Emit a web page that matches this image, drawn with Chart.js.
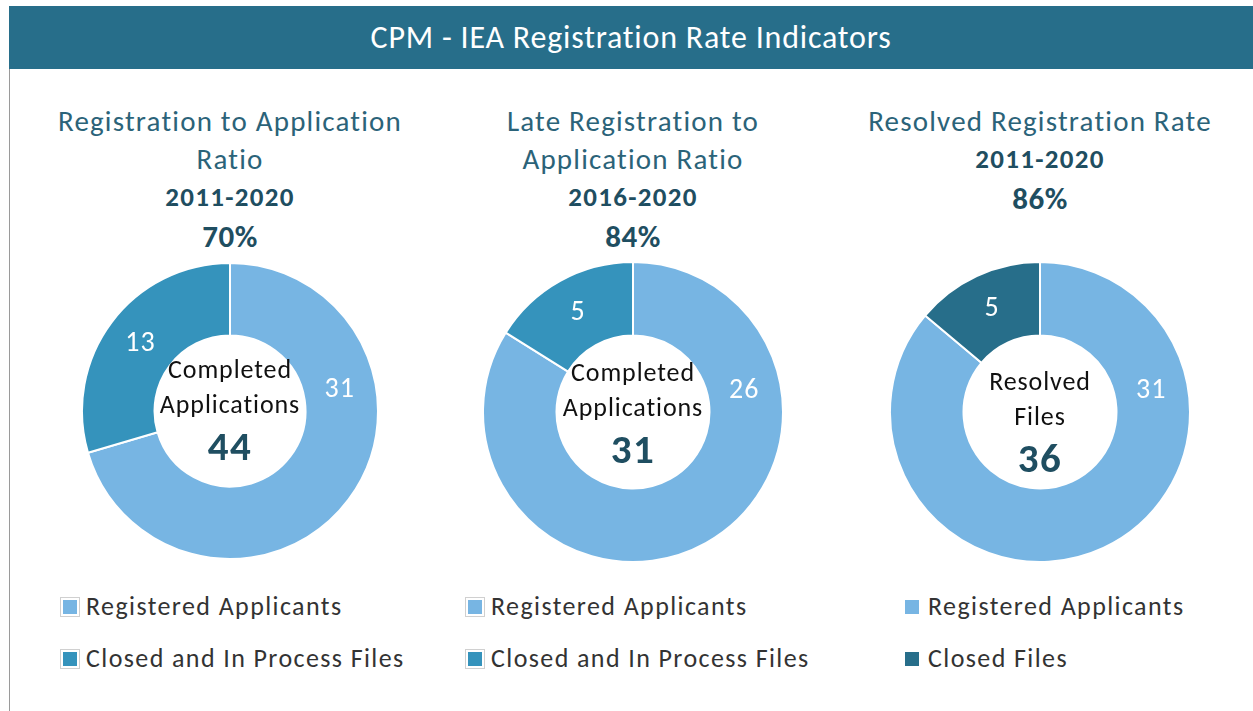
<!DOCTYPE html>
<html lang="en">
<head>
    <meta charset="UTF-8">
    <title>CPM - IEA Registration Rate Indicators</title>
    <script src="https://cdn.jsdelivr.net/npm/chart.js"></script>
    <style>
        body { margin: 0; background: #fff; font-family: Carlito, Calibri, Lato, sans-serif; }
        #page { position: relative; width: 1253px; height: 711px; overflow: hidden; }
        #header { position: absolute; left: 9px; top: 6px; width: 1244px; height: 63px; background: #276e8a;
                  color: #fff; font-size: 32px; letter-spacing: 0.8px; line-height: 63px; text-align: center; }
        #frame { position: absolute; left: 9px; top: 69px; width: 1px; height: 642px; background: #9a9a9a; }
        .title { position: absolute; width: 440px; text-align: center; color: #2b6379; font-size: 29px;
                 letter-spacing: 1.2px; line-height: 38px; }
        .period { position: absolute; width: 440px; text-align: center; color: #1f4e61; font-size: 27px;
                  letter-spacing: 1.3px; font-weight: bold; }
        .rate { position: absolute; width: 440px; text-align: center; color: #1f4e61; font-size: 31px;
                letter-spacing: 0.5px; font-weight: bold; }
        .box { position: absolute; }
        .legend { position: absolute; font-size: 26px; letter-spacing: 1.4px; color: #333; }
        .legend div { height: 52px; line-height: 24px; white-space: nowrap; }
        .legend span { display: inline-block; width: 14px; height: 14px; margin-right: 9px; vertical-align: 1px; }
    </style>
</head>
<body>
<div id="page">
    <div id="header">CPM - IEA Registration Rate Indicators</div>
    <div id="frame"></div>
</div>

<script>
    // data
    var titles = [
        ['Registration to Application', 'Ratio'],
        ['Late Registration to', 'Application Ratio'],
        ['Resolved Registration Rate']
    ];
    var periods = ['2011-2020', '2016-2020', '2011-2020'];
    var rates = ['70%', '84%', '86%'];
    var legendLabels = [
        ['Registered Applicants', 'Closed and In Process Files'],
        ['Registered Applicants', 'Closed and In Process Files'],
        ['Registered Applicants', 'Closed Files']
    ];
    var values = [
        [31, 13],
        [26, 5],
        [31, 5]
    ];
    var centerLabels = [
        ['Completed', 'Applications'],
        ['Completed', 'Applications'],
        ['Resolved', 'Files']
    ];
    var centerTotals = ['44', '31', '36'];

    var colors = [
        ['#77b5e3', '#3593bc'],
        ['#77b5e3', '#3593bc'],
        ['#77b5e3', '#276e8a']
    ];

    // layout per panel
    var panels = [
        { cx: 230, cy: 411, size: 298, titleTop: 102, legendX: 63, legendBorder: true, centerShift: 0 },
        { cx: 633, cy: 412, size: 302, titleTop: 102, legendX: 468, legendBorder: true, centerShift: 2 },
        { cx: 1040, cy: 412, size: 302, titleTop: 102, legendX: 905, legendBorder: false, centerShift: 11 }
    ];

    var FONT = 'Carlito, Calibri, Lato, sans-serif';

    // white value labels on the ring
    var ringLabels = {
        id: 'ringLabels',
        afterDatasetsDraw: function(chart) {
            var ctx = chart.ctx;
            var meta = chart.getDatasetMeta(0);
            ctx.save();
            ctx.fillStyle = '#fff';
            ctx.font = '28px ' + FONT;
            ctx.letterSpacing = '1px';
            ctx.textAlign = 'center';
            ctx.textBaseline = 'middle';
            meta.data.forEach(function(arc, i) {
                var span = arc.endAngle - arc.startAngle;
                var a = span > Math.PI ? arc.startAngle + Math.PI * 0.44 : arc.startAngle + span / 2;
                var r = (arc.innerRadius + arc.outerRadius) / 2;
                ctx.fillText(chart.data.datasets[0].data[i], arc.x + Math.cos(a) * r, arc.y + Math.sin(a) * r);
            });
            ctx.restore();
        }
    };

    // text in the hole
    var holeText = {
        id: 'holeText',
        afterDraw: function(chart) {
            var o = chart.options.plugins.holeText;
            var ctx = chart.ctx;
            var arc = chart.getDatasetMeta(0).data[0];
            var x = arc.x, y = arc.y + o.shift;
            ctx.save();
            ctx.textAlign = 'center';
            ctx.textBaseline = 'middle';
            ctx.fillStyle = '#111';
            ctx.font = '26px ' + FONT;
            ctx.letterSpacing = '0.9px';
            ctx.fillText(o.lines[0], x, y - 40);
            ctx.fillText(o.lines[1], x, y - 5);
            ctx.fillStyle = '#1f4e61';
            ctx.font = 'bold 41px ' + FONT;
            ctx.letterSpacing = '1.5px';
            ctx.fillText(o.total, x, y + 39);
            ctx.restore();
        }
    };

    var page = document.getElementById('page');

    panels.forEach(function(p, k) {
        // titles
        var t = document.createElement('div');
        t.className = 'title';
        t.style.left = (p.cx - 220) + 'px';
        t.style.top = p.titleTop + 'px';
        t.innerHTML = titles[k].join('<br>');
        page.appendChild(t);
        var lines = titles[k].length;

        var pd = document.createElement('div');
        pd.className = 'period';
        pd.style.left = (p.cx - 220) + 'px';
        pd.style.top = (p.titleTop + 38 * lines + 2) + 'px';
        pd.textContent = periods[k];
        page.appendChild(pd);

        var rt = document.createElement('div');
        rt.className = 'rate';
        rt.style.left = (p.cx - 220) + 'px';
        rt.style.top = (p.titleTop + 38 * lines + 39) + 'px';
        rt.textContent = rates[k];
        page.appendChild(rt);

        // chart
        var box = document.createElement('div');
        box.className = 'box';
        box.style.left = (p.cx - p.size / 2) + 'px';
        box.style.top = (p.cy - p.size / 2) + 'px';
        box.style.width = p.size + 'px';
        box.style.height = p.size + 'px';
        var cv = document.createElement('canvas');
        box.appendChild(cv);
        page.appendChild(box);

        new Chart(cv.getContext('2d'), {
            type: 'doughnut',
            data: {
                labels: legendLabels[k],
                datasets: [{
                    data: values[k],
                    backgroundColor: colors[k],
                    borderColor: '#fff',
                    borderWidth: 2
                }]
            },
            options: {
                responsive: true,
                maintainAspectRatio: false,
                animation: false,
                cutout: '51%',
                layout: { padding: 0 },
                plugins: {
                    legend: { display: false },
                    tooltip: { enabled: false },
                    holeText: { lines: centerLabels[k], total: centerTotals[k], shift: p.centerShift }
                }
            },
            plugins: [ringLabels, holeText]
        });

        // legend
        var lg = document.createElement('div');
        lg.className = 'legend';
        lg.style.left = p.legendX + 'px';
        lg.style.top = '594px';
        legendLabels[k].forEach(function(lab, i) {
            var row = document.createElement('div');
            var sw = document.createElement('span');
            sw.style.background = colors[k][i];
            if (p.legendBorder) sw.style.boxShadow = '0 0 0 2px #fff, 0 0 0 3px #d0d0d0';
            row.appendChild(sw);
            row.appendChild(document.createTextNode(lab));
            lg.appendChild(row);
        });
        page.appendChild(lg);
    });
</script>
</body>
</html>
